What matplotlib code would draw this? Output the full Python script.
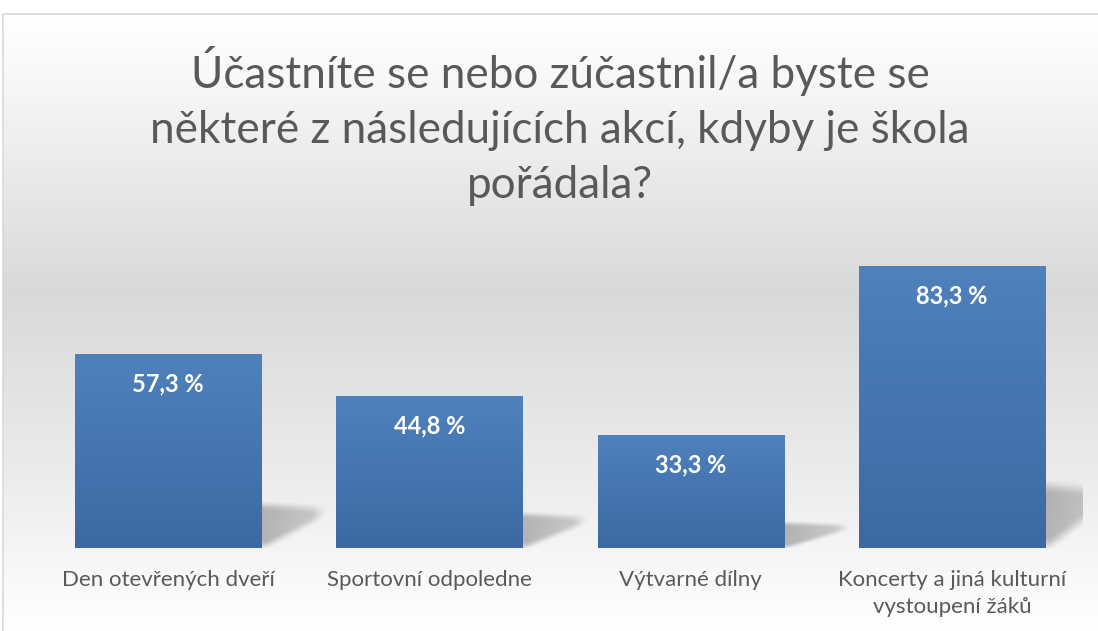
import numpy as np
import matplotlib
matplotlib.use("Agg")
import matplotlib.pyplot as plt
from matplotlib.colors import LinearSegmentedColormap
from matplotlib.patches import Rectangle

title = "Účastníte se nebo zúčastnil/a byste se\nněkteré z následujících akcí, kdyby je škola\npořádala?"
categories = ["Den otevřených dveří", "Sportovní odpoledne", "Výtvarné dílny",
              "Koncerty a jiná kulturní\nvystoupení žáků"]
values = [57.3, 44.8, 33.3, 83.3]
value_labels = ["57,3 %", "44,8 %", "33,3 %", "83,3 %"]

plt.rcParams['font.family'] = ['Lato', 'DejaVu Sans']

W, H = 1098, 631
fig = plt.figure(figsize=(W / 100, H / 100), dpi=100)
fig.patch.set_facecolor('white')

# background with vertical gradient inside the chart frame
bg = fig.add_axes([0, 0, 1, 1])
bg.axis('off')
bg_cmap = LinearSegmentedColormap.from_list(
    'bg', [(0, '#ffffff'), (0.1, '#f8f8f8'), (0.45, '#d9d9d9'), (0.75, '#ececec'), (1.0, '#ffffff')])
grad = np.linspace(0, 1, 256).reshape(-1, 1)
bg.imshow(grad, cmap=bg_cmap, extent=[3, W + 5, H, 14], aspect='auto')
bg.add_patch(Rectangle((3, 14), W + 10, H, fill=False, edgecolor='#d9d9d9', linewidth=1.2))
bg.set_xlim(0, W)
bg.set_ylim(H, 0)

fig.text(560 / W, 1 - 126 / H, title, ha='center', va='center', fontsize=31.7,
         color='#595959', linespacing=1.42)

# plot area
ax = fig.add_axes([37.35 / W, (H - 548) / H, 1045.3 / W, 304.7 / H])
ax.set_facecolor('none')
for s in ax.spines.values():
    s.set_visible(False)
ax.set_xticks([])
ax.set_yticks([])

x = np.arange(len(values))
width = 0.712
bar_cmap = LinearSegmentedColormap.from_list('bar', ['#4f81bd', '#3c69a2'])


def smooth(t):
    t = np.clip(t, 0, 1)
    return t * t * (3 - 2 * t)


# soft shadows to the right of each bar
sw = 0.27
for xi, v in zip(x, values):
    r = xi + width / 2
    xs = np.linspace(0, sw, 120)
    ys = np.linspace(0, 0.3 * v, 120)
    U, Y = np.meshgrid(xs / 0.25, ys)
    top = v * (0.25 - 0.02 * U)
    bot = v * 0.16 * np.clip((U - 0.08) / 0.92, 0, None)
    soft = 0.06 * v
    a = smooth((top - Y) / soft) * smooth((Y - bot) / soft + 0.3) * smooth((1.05 - U) / 0.3)
    a *= 0.42 * (1 - 0.45 * U)
    rgba = np.zeros(a.shape + (4,))
    rgba[..., :3] = 0.35
    rgba[..., 3] = a
    ax.imshow(rgba, extent=[r, r + sw, 0, 0.3 * v], origin='lower', aspect='auto',
              zorder=1, interpolation='bilinear')

bars = ax.bar(x, values, width=width, color='none', zorder=2)
for b in bars:
    x0, w, h = b.get_x(), b.get_width(), b.get_height()
    im = ax.imshow(grad, cmap=bar_cmap, extent=[x0, x0 + w, 0, h], aspect='auto',
                   origin='upper', zorder=2)
    im.set_clip_path(b)

for xi, v, lab in zip(x, values, value_labels):
    ax.annotate(lab, (xi, v), xytext=(0, -30), textcoords='offset pixels',
                ha='center', va='center', fontsize=17, fontweight='bold',
                color='white', zorder=3)

for xi, cat in zip(x, categories):
    ax.annotate(cat, (xi, 0), xytext=(0, -22), textcoords='offset pixels',
                ha='center', va='top', fontsize=16, color='#595959',
                linespacing=1.42, annotation_clip=False)

ax.set_xlim(-0.5, 3.5)
ax.set_ylim(0, 90)

fig.savefig('out.png', dpi=100)
